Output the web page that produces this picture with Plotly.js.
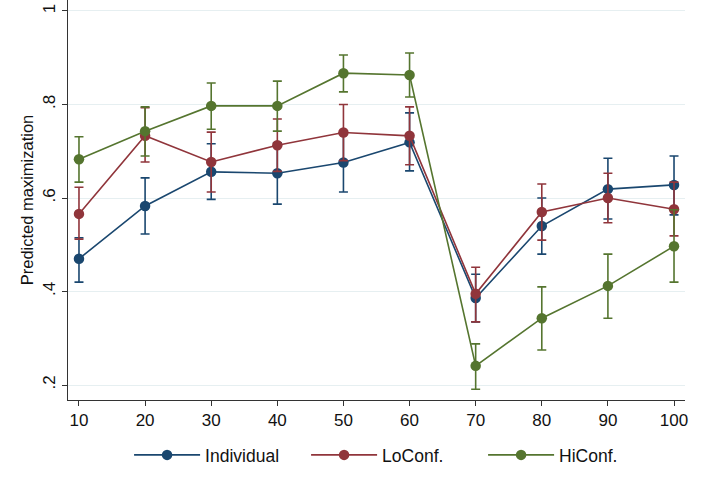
<!DOCTYPE html>
<html>
<head>
<meta charset="utf-8">
<script src="https://cdn.plot.ly/plotly-3.0.1.min.js"></script>
<style>
  html, body { margin: 0; padding: 0; background: #ffffff; }
  #chart { width: 703px; height: 495px; }
</style>
</head>
<body>
<div id="chart"></div>
<script>
/* ── Data ────────────────────────────────────────────────── */
const xVals = [10, 20, 30, 40, 50, 60, 70, 80, 90, 100];

const indivMean = [0.470, 0.583, 0.656, 0.653, 0.676, 0.719, 0.386, 0.540, 0.619, 0.628];
const indivHi   = [0.515, 0.643, 0.716, 0.718, 0.739, 0.782, 0.437, 0.600, 0.685, 0.690];
const indivLo   = [0.420, 0.523, 0.597, 0.587, 0.613, 0.658, 0.335, 0.480, 0.555, 0.564];

const loMean = [0.566, 0.733, 0.677, 0.713, 0.740, 0.733, 0.395, 0.570, 0.600, 0.576];
const loHi   = [0.623, 0.793, 0.741, 0.769, 0.800, 0.795, 0.452, 0.630, 0.653, 0.634];
const loLo   = [0.512, 0.677, 0.613, 0.657, 0.680, 0.671, 0.335, 0.510, 0.547, 0.519];

const hiMean = [0.683, 0.743, 0.797, 0.797, 0.867, 0.863, 0.241, 0.343, 0.412, 0.497];
const hiHi   = [0.731, 0.795, 0.846, 0.850, 0.906, 0.910, 0.288, 0.410, 0.480, 0.575];
const hiLo   = [0.634, 0.690, 0.747, 0.743, 0.827, 0.816, 0.191, 0.275, 0.343, 0.420];

const yTicks = [0.2, 0.4, 0.6, 0.8, 1];
const yTickText = ['.2', '.4', '.6', '.8', '1'];

/* ── Styling ─────────────────────────────────────────────── */
const FONT = 'Liberation Sans, Arial, Helvetica, sans-serif';

function series(name, mean, hi, lo, color) {
  return {
    x: xVals, y: mean, name: name,
    type: 'scatter', mode: 'lines+markers',
    line: { color: color, width: 1.6 },
    marker: { color: color, size: 10.5 },
    error_y: {
      type: 'data', symmetric: false,
      array: hi.map((v, i) => v - mean[i]),
      arrayminus: mean.map((v, i) => v - lo[i]),
      color: color, thickness: 1.6, width: 4.5
    },
    hovertemplate: name + '<br>%{x}: %{y:.3f}<extra></extra>'
  };
}

const traces = [
  series('Individual', indivMean, indivHi, indivLo, '#1a476f'),
  series('LoConf.', loMean, loHi, loLo, '#90353b'),
  series('HiConf.', hiMean, hiHi, hiLo, '#55752f')
];

const layout = {
  width: 703, height: 495,
  font: { family: FONT, size: 17, color: '#111111' },
  paper_bgcolor: '#ffffff',
  plot_bgcolor: '#ffffff',
  margin: { l: 68, r: 18, t: 0, b: 95 },
  showlegend: true,
  legend: {
    orientation: 'h', x: 0.099, xanchor: 'left', y: -0.1375, yanchor: 'middle',
    font: { size: 17.5 }, itemwidth: 66, entrywidth: 96, entrywidthmode: 'pixels',
    traceorder: 'normal'
  },
  xaxis: {
    range: [8.34, 101.66],
    tickvals: xVals, ticktext: xVals.map(String),
    showgrid: false, zeroline: false,
    showline: true, linecolor: '#333333', linewidth: 1,
    ticks: 'outside', ticklen: 5, tickcolor: '#333333',
    tickfont: { size: 17 }
  },
  yaxis: {
    range: [0.168, 1.0235],
    tickvals: yTicks, ticktext: yTickText, tickangle: -90,
    showgrid: true, gridcolor: '#e6eff1', gridwidth: 1,
    zeroline: false,
    showline: true, linecolor: '#333333', linewidth: 1,
    ticks: 'outside', ticklen: 5, tickcolor: '#333333',
    tickfont: { size: 17 },
    title: { text: 'Predicted maximization', font: { size: 16.5 }, standoff: 2 }
  }
};

Plotly.newPlot('chart', traces, layout, { displayModeBar: false, responsive: false });
</script>
</body>
</html>
